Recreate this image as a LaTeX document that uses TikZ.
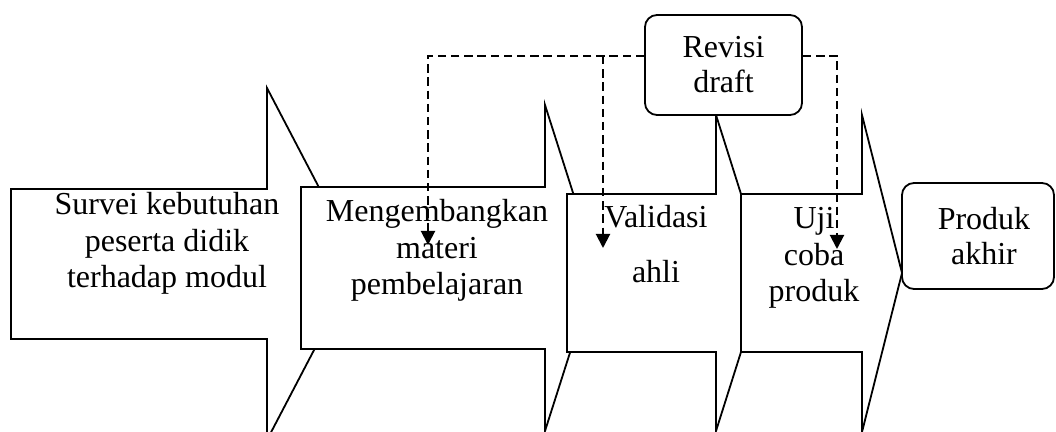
\documentclass[tikz,border=0pt]{standalone}
\usepackage{fontspec}
\setmainfont{Liberation Serif}
\usetikzlibrary{arrows.meta}
\begin{document}
\begin{tikzpicture}[x=0.5pt,y=-0.5pt,
  line width=0.9pt, line join=miter,
  stage/.style={draw, fill=white},
  % base anchor of a multi-line node sits on its last line
  stagetext/.style={align=center, font=\fontsize{16}{18.4}\selectfont, inner sep=0pt, anchor=base},
  roundbox/.style={draw, fill=white, rounded corners=6pt, align=center,
    font=\fontsize{16}{17.5}\selectfont, inner sep=0pt},
  feedback/.style={line width=1pt, dash pattern=on 4.2pt off 2.4pt, -{Triangle[width=7pt,length=7pt]}}
]
\useasboundingbox (0,0) rectangle (1056,432);
\clip (0,0) rectangle (1056,432);

% stage 1
\draw[stage] (11,189) -- (267,189) -- (267,88) -- (359,264) -- (267,440) -- (267,339) -- (11,339) -- cycle;
\node[stagetext] (survei) at (167,288) {Survei kebutuhan\\peserta didik\\terhadap modul};

% stage 2
\draw[stage] (301,187) -- (545,187) -- (545,105) -- (597,268) -- (545,431) -- (545,349) -- (301,349) -- cycle;
\node[stagetext] (materi) at (437,295) {Mengembangkan\\materi\\pembelajaran};

% stage 3
\draw[stage] (567,194) -- (716,194) -- (716,115) -- (766,273) -- (716,431) -- (716,352) -- (567,352) -- cycle;
\node[stagetext] (validasi) at (656,283) {Validasi\\[9.1pt]ahli};

% stage 4
\draw[stage] (741,194) -- (862,194) -- (862,115) -- (902,273) -- (862,432) -- (862,352) -- (741,352) -- cycle;
\node[stagetext] (ujicoba) at (814,302) {Uji\\coba\\produk};

% final product and revision box
\node[roundbox, minimum width=76pt, minimum height=53pt] (produk) at (978,236) {\hspace*{6pt}Produk\\\hspace*{6pt}akhir};
\node[roundbox, minimum width=78.5pt, minimum height=50pt] (revisi) at (723.5,65) {Revisi\\draft};

% feedback lines from the revision box
\coordinate (fork) at (603,56);
\coordinate (leftbend) at (428,56);
\coordinate (rightbend) at (837,56);
\coordinate (t2) at (428,245);
\coordinate (t3) at (603,248);
\coordinate (t4) at (837,249);
\draw[feedback] (revisi.west |- fork) -- (leftbend) -- (t2);
\draw[feedback] (fork) -- (t3);
\draw[feedback] (revisi.east |- fork) -- (rightbend) -- (t4);
\end{tikzpicture}
\end{document}
